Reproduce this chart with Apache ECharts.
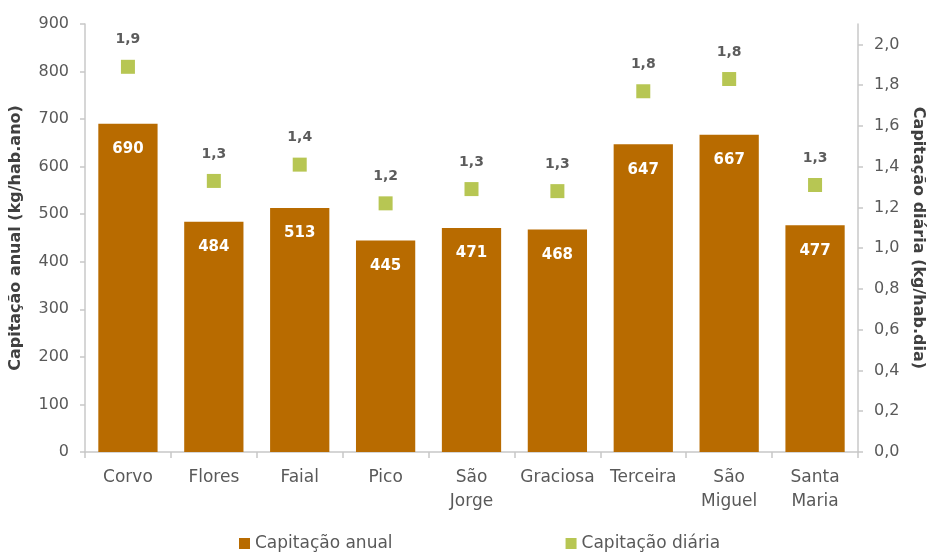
<!DOCTYPE html>
<html>
<head>
<meta charset="utf-8">
<script src="https://cdn.jsdelivr.net/npm/echarts@6/dist/echarts.min.js"></script>
<style>
  html, body { margin: 0; padding: 0; background: #fff; }
  #chart { width: 932px; height: 553px; }
</style>
</head>
<body>
<div id="chart"></div>
<script>
// Ilhas dos Açores
const ilhas = ['Corvo', 'Flores', 'Faial', 'Pico', 'São\nJorge', 'Graciosa', 'Terceira', 'São\nMiguel', 'Santa\nMaria'];
// Capitação anual (kg/hab.ano)
const capitacaoAnual = [690, 484, 513, 445, 471, 468, 647, 667, 477];
// Capitação diária (kg/hab.dia)
const capitacaoDiaria = [1.89, 1.33, 1.41, 1.22, 1.29, 1.28, 1.77, 1.83, 1.31];
// Marcas do eixo direito
const ticksDiaria = [0, 0.2, 0.4, 0.6, 0.8, 1.0, 1.2, 1.4, 1.6, 1.8, 2.0];

const FONT = 'DejaVu Sans';
const corAnual = '#B86B00';
const corDiaria = '#A5B828';
const fmtPt = v => v.toFixed(1).replace('.', ',');

const chart = echarts.init(document.getElementById('chart'));
chart.setOption({
  animation: false,
  textStyle: { fontFamily: FONT },
  grid: { left: 85, right: 74, top: 24, bottom: 101, containLabel: false, outerBoundsMode: 'none' },
  legend: {
    left: 234, top: 530,
    icon: 'rect', itemWidth: 11, itemHeight: 11, itemGap: 173,
    textStyle: { fontFamily: FONT, fontSize: 17, color: '#595959' },
    data: ['Capitação anual', 'Capitação diária']
  },
  xAxis: {
    type: 'category',
    data: ilhas,
    axisLine: { lineStyle: { color: '#C8C8C8', width: 1.5 } },
    axisTick: { show: true, length: 6, lineStyle: { color: '#C8C8C8', width: 1.5 } },
    axisLabel: { interval: 0, fontFamily: FONT, fontSize: 17, color: '#595959', margin: 14, lineHeight: 24 }
  },
  yAxis: [
    {
      type: 'value', min: 0, max: 900, interval: 100,
      name: 'Capitação anual (kg/hab.ano)',
      nameLocation: 'middle', nameGap: 61, nameRotate: 90,
      nameTextStyle: { fontFamily: FONT, fontSize: 16, fontWeight: 'bold', color: '#404040' },
      axisLine: { show: true, lineStyle: { color: '#C8C8C8', width: 1.5 } },
      axisTick: { show: true, length: 5, lineStyle: { color: '#C8C8C8', width: 1.5 } },
      axisLabel: { fontFamily: FONT, fontSize: 16, color: '#595959', margin: 16 },
      splitLine: { show: false }
    },
    {
      type: 'value', min: 0, max: 2.1,
      name: 'Capitação diária (kg/hab.dia)',
      nameLocation: 'middle', nameGap: 51, nameRotate: -90,
      nameTextStyle: { fontFamily: FONT, fontSize: 16, fontWeight: 'bold', color: '#404040' },
      axisLine: { show: true, lineStyle: { color: '#C8C8C8', width: 1.5 } },
      axisTick: { show: true, length: 5, customValues: ticksDiaria, lineStyle: { color: '#C8C8C8', width: 1.5 } },
      axisLabel: { fontFamily: FONT, fontSize: 16, color: '#595959', margin: 16,
        customValues: ticksDiaria, formatter: v => fmtPt(v) },
      splitLine: { show: false }
    }
  ],
  series: [
    {
      name: 'Capitação anual',
      type: 'bar',
      yAxisIndex: 0,
      data: capitacaoAnual,
      barCategoryGap: '31%',
      itemStyle: { color: corAnual },
      label: {
        show: true, position: 'insideTop', distance: 18,
        fontFamily: FONT, fontSize: 15, fontWeight: 'bold', color: '#FFFFFF'
      }
    },
    {
      name: 'Capitação diária',
      type: 'scatter',
      yAxisIndex: 1,
      data: capitacaoDiaria,
      symbol: 'rect', symbolSize: 14,
      itemStyle: { color: corDiaria },
      label: {
        show: true, position: 'top', distance: 13,
        fontFamily: FONT, fontSize: 14, fontWeight: 'bold', color: '#333333',
        formatter: p => fmtPt(p.value)
      }
    }
  ]
});
</script>
</body>
</html>
